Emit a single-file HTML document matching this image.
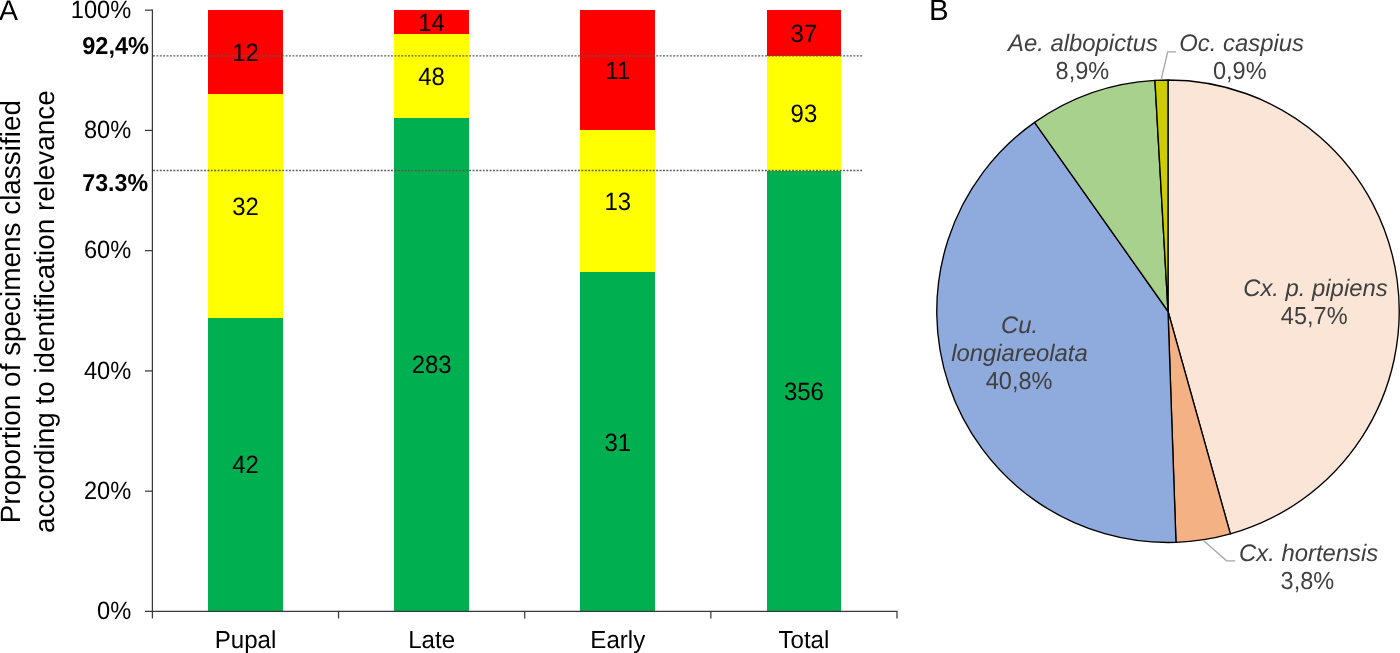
<!DOCTYPE html>
<html lang="en"><head><meta charset="utf-8"><title>Figure</title>
<style>html,body{margin:0;padding:0;background:#fff;}body{width:1400px;height:653px;overflow:hidden;}svg{display:block;}text{font-family:"Liberation Sans",Arial,Helvetica,sans-serif;text-rendering:geometricPrecision;}</style>
</head><body>
<svg width="1400" height="653" viewBox="0 0 1400 653">
<rect x="0" y="0" width="1400" height="653" fill="#ffffff"/>
<text transform="translate(-1.00,19.60)" font-size="28.5" text-anchor="start" fill="#000">A</text>
<text transform="translate(929.00,19.80)" font-size="29.5" text-anchor="start" fill="#000">B</text>
<g shape-rendering="crispEdges">
<rect x="208.18" y="317.64" width="74.6" height="294.06" fill="#00b050"/>
<rect x="208.18" y="93.97" width="74.6" height="223.67" fill="#ffff00"/>
<rect x="208.18" y="10.10" width="74.6" height="83.87" fill="#ff0000"/>
<rect x="394.32" y="118.12" width="74.6" height="493.58" fill="#00b050"/>
<rect x="394.32" y="34.49" width="74.6" height="83.63" fill="#ffff00"/>
<rect x="394.32" y="10.10" width="74.6" height="24.39" fill="#ff0000"/>
<rect x="580.48" y="272.40" width="74.6" height="339.30" fill="#00b050"/>
<rect x="580.48" y="130.32" width="74.6" height="142.08" fill="#ffff00"/>
<rect x="580.48" y="10.10" width="74.6" height="120.22" fill="#ff0000"/>
<rect x="766.62" y="170.89" width="74.6" height="440.81" fill="#00b050"/>
<rect x="766.62" y="55.86" width="74.6" height="115.03" fill="#ffff00"/>
<rect x="766.62" y="10.10" width="74.6" height="45.76" fill="#ff0000"/>
</g>
<line x1="153" y1="55.8" x2="862.5" y2="55.8" stroke="#595959" stroke-width="1.3" stroke-dasharray="1.9 1.5"/>
<line x1="153" y1="170.5" x2="862.5" y2="170.5" stroke="#595959" stroke-width="1.3" stroke-dasharray="1.9 1.5"/>
<g stroke="#3a3a3a" stroke-width="1.25" fill="none">
<line x1="152.4" y1="9.55" x2="152.4" y2="618.45"/>
<line x1="145.0" y1="611.45" x2="897.60" y2="611.45"/>
<line x1="145.0" y1="491.19" x2="152.4" y2="491.19"/>
<line x1="145.0" y1="370.93" x2="152.4" y2="370.93"/>
<line x1="145.0" y1="250.67" x2="152.4" y2="250.67"/>
<line x1="145.0" y1="130.41" x2="152.4" y2="130.41"/>
<line x1="145.0" y1="10.15" x2="152.4" y2="10.15"/>
<line x1="338.55" y1="611.45" x2="338.55" y2="618.45"/>
<line x1="524.70" y1="611.45" x2="524.70" y2="618.45"/>
<line x1="710.85" y1="611.45" x2="710.85" y2="618.45"/>
<line x1="897.00" y1="611.45" x2="897.00" y2="618.45"/>
</g>
<text transform="translate(131.20,619.25) scale(0.945,1)" font-size="25.0" text-anchor="end" fill="#000">0%</text>
<text transform="translate(131.20,498.99) scale(0.945,1)" font-size="25.0" text-anchor="end" fill="#000">20%</text>
<text transform="translate(131.20,378.73) scale(0.945,1)" font-size="25.0" text-anchor="end" fill="#000">40%</text>
<text transform="translate(131.20,258.47) scale(0.945,1)" font-size="25.0" text-anchor="end" fill="#000">60%</text>
<text transform="translate(131.20,138.21) scale(0.945,1)" font-size="25.0" text-anchor="end" fill="#000">80%</text>
<text transform="translate(131.20,17.65) scale(0.945,1)" font-size="25.0" text-anchor="end" fill="#000">100%</text>
<text transform="translate(149.00,54.30) scale(0.965,1)" font-size="24.4" text-anchor="end" fill="#000" font-weight="bold">92,4%</text>
<text transform="translate(148.00,191.10) scale(0.95,1)" font-size="24.4" text-anchor="end" fill="#000" font-weight="bold">73.3%</text>
<text transform="translate(245.48,647.50) scale(0.98,1)" font-size="24.6" text-anchor="middle" fill="#000">Pupal</text>
<text transform="translate(431.62,647.50) scale(0.98,1)" font-size="24.6" text-anchor="middle" fill="#000">Late</text>
<text transform="translate(617.77,647.50) scale(0.98,1)" font-size="24.6" text-anchor="middle" fill="#000">Early</text>
<text transform="translate(803.92,647.50) scale(0.98,1)" font-size="24.6" text-anchor="middle" fill="#000">Total</text>
<text transform="translate(245.48,473.22) scale(0.957,1)" font-size="25.0" text-anchor="middle" fill="#000">42</text>
<text transform="translate(245.48,214.61) scale(0.957,1)" font-size="25.0" text-anchor="middle" fill="#000">32</text>
<text transform="translate(245.48,60.84) scale(0.957,1)" font-size="25.0" text-anchor="middle" fill="#000">12</text>
<text transform="translate(431.62,373.46) scale(0.957,1)" font-size="25.0" text-anchor="middle" fill="#000">283</text>
<text transform="translate(431.62,85.11) scale(0.957,1)" font-size="25.0" text-anchor="middle" fill="#000">48</text>
<text transform="translate(431.62,31.10) scale(0.957,1)" font-size="25.0" text-anchor="middle" fill="#000">14</text>
<text transform="translate(617.77,450.60) scale(0.957,1)" font-size="25.0" text-anchor="middle" fill="#000">31</text>
<text transform="translate(617.77,210.16) scale(0.957,1)" font-size="25.0" text-anchor="middle" fill="#000">13</text>
<text transform="translate(617.77,79.01) scale(0.957,1)" font-size="25.0" text-anchor="middle" fill="#000">11</text>
<text transform="translate(803.92,399.84) scale(0.957,1)" font-size="25.0" text-anchor="middle" fill="#000">356</text>
<text transform="translate(803.92,122.18) scale(0.957,1)" font-size="25.0" text-anchor="middle" fill="#000">93</text>
<text transform="translate(803.92,41.78) scale(0.957,1)" font-size="25.0" text-anchor="middle" fill="#000">37</text>
<text transform="translate(20.40,311.70) rotate(-90)" font-size="27.9" text-anchor="middle" fill="#000">Proportion of specimens classified</text>
<text transform="translate(53.70,311.70) rotate(-90)" font-size="27.85" text-anchor="middle" fill="#000">according to identification relevance</text>
<g stroke="#000" stroke-width="1.35" stroke-linejoin="round">
<path d="M1168.0,311.25 L1168.00,80.00 A231.25,231.25 0 0 1 1230.36,533.93 Z" fill="#fbe5d6"/>
<path d="M1168.0,311.25 L1230.36,533.93 A231.25,231.25 0 0 1 1175.98,542.36 Z" fill="#f4b183"/>
<path d="M1168.0,311.25 L1175.98,542.36 A231.25,231.25 0 0 1 1034.55,122.39 Z" fill="#8faadc"/>
<path d="M1168.0,311.25 L1034.55,122.39 A231.25,231.25 0 0 1 1154.94,80.37 Z" fill="#a9d18e"/>
<path d="M1168.0,311.25 L1154.94,80.37 A231.25,231.25 0 0 1 1168.00,80.00 Z" fill="#cccc00"/>
</g>
<g stroke="#a6a6a6" stroke-width="1.3" fill="none">
<polyline points="1161.2,79.5 1167.7,51.8 1176,51.8"/>
<polyline points="1203.8,540.8 1226.6,560.8 1235.2,560.8"/>
</g>
<text transform="translate(1083.00,51.20)" font-size="23.85" text-anchor="middle" fill="#404040" font-style="italic">Ae. albopictus</text>
<text transform="translate(1082.40,79.15) scale(0.957,1)" font-size="24.6" text-anchor="middle" fill="#404040">8,9%</text>
<text transform="translate(1241.60,51.20)" font-size="23.85" text-anchor="middle" fill="#404040" font-style="italic">Oc. caspius</text>
<text transform="translate(1239.80,79.15) scale(0.957,1)" font-size="24.6" text-anchor="middle" fill="#404040">0,9%</text>
<text transform="translate(1315.40,295.80)" font-size="23.85" text-anchor="middle" fill="#404040" font-style="italic">Cx. p. pipiens</text>
<text transform="translate(1314.20,323.75) scale(0.957,1)" font-size="24.6" text-anchor="middle" fill="#404040">45,7%</text>
<text transform="translate(1019.60,333.30)" font-size="23.85" text-anchor="middle" fill="#404040" font-style="italic">Cu.</text>
<text transform="translate(1019.40,361.25)" font-size="23.85" text-anchor="middle" fill="#404040" font-style="italic">longiareolata</text>
<text transform="translate(1019.10,389.20) scale(0.957,1)" font-size="24.6" text-anchor="middle" fill="#404040">40,8%</text>
<text transform="translate(1308.60,561.40)" font-size="23.85" text-anchor="middle" fill="#404040" font-style="italic">Cx. hortensis</text>
<text transform="translate(1307.40,589.35) scale(0.957,1)" font-size="24.6" text-anchor="middle" fill="#404040">3,8%</text>
</svg>
</body></html>
